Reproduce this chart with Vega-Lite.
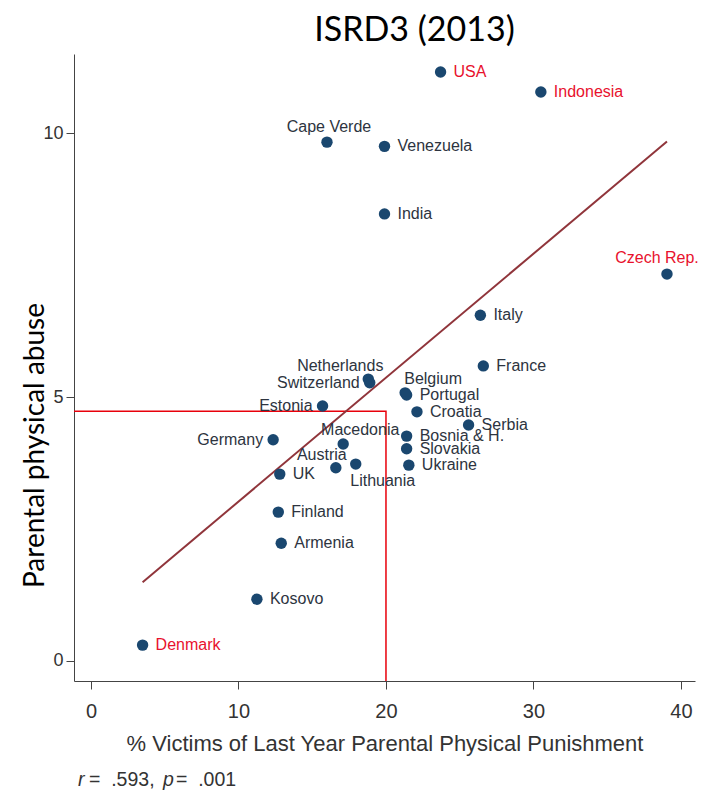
{
  "$schema": "https://vega.github.io/schema/vega-lite/v6.json",
  "width": 621,
  "height": 627,
  "autosize": "none",
  "padding": {"left": 74, "top": 54, "right": 12, "bottom": 112},
  "background": "white",
  "title": {"text": "ISRD3 (2013)", "font": "Lato", "fontSize": 34, "fontWeight": "normal", "color": "#000", "anchor": "middle", "frame": "group", "dx": 30, "dy": 34, "offset": 13, "baseline": "alphabetic"},
  "config": {
    "view": {"stroke": null},
    "axis": {"grid": false, "domainColor": "#444", "tickColor": "#444", "labelFont": "Liberation Sans", "labelColor": "#333", "titleFont": "Liberation Sans", "titleColor": "#333", "titleFontWeight": "normal", "tickSize": 8}
  },
  "data": {"values": [
    {"country": "USA", "x": 23.7, "y": 11.16},
    {"country": "Indonesia", "x": 30.5, "y": 10.78},
    {"country": "Cape Verde", "x": 16.0, "y": 9.83},
    {"country": "Venezuela", "x": 19.9, "y": 9.75},
    {"country": "India", "x": 19.9, "y": 8.47},
    {"country": "Czech Rep.", "x": 39.05, "y": 7.33},
    {"country": "Italy", "x": 26.4, "y": 6.55},
    {"country": "France", "x": 26.6, "y": 5.59},
    {"country": "Netherlands", "x": 18.8, "y": 5.34},
    {"country": "Switzerland", "x": 18.9, "y": 5.27},
    {"country": "Belgium", "x": 21.3, "y": 5.08},
    {"country": "Portugal", "x": 21.4, "y": 5.04},
    {"country": "Estonia", "x": 15.7, "y": 4.83},
    {"country": "Croatia", "x": 22.1, "y": 4.72},
    {"country": "Serbia", "x": 25.6, "y": 4.47},
    {"country": "Germany", "x": 12.35, "y": 4.19},
    {"country": "Macedonia", "x": 17.1, "y": 4.11},
    {"country": "Bosnia & H.", "x": 21.4, "y": 4.26},
    {"country": "Slovakia", "x": 21.4, "y": 4.02},
    {"country": "Ukraine", "x": 21.55, "y": 3.71},
    {"country": "Lithuania", "x": 17.95, "y": 3.73},
    {"country": "Austria", "x": 16.6, "y": 3.66},
    {"country": "UK", "x": 12.8, "y": 3.54},
    {"country": "Finland", "x": 12.7, "y": 2.82},
    {"country": "Armenia", "x": 12.9, "y": 2.23},
    {"country": "Kosovo", "x": 11.25, "y": 1.17},
    {"country": "Denmark", "x": 3.5, "y": 0.30}
  ]},
  "encoding": {
    "x": {"field": "x", "type": "quantitative", "scale": {"domain": [-1.15, 40.95], "nice": false, "zero": false},
      "axis": {"values": [0, 10, 20, 30, 40], "title": "% Victims of Last Year Parental Physical Punishment", "titleFontSize": 22, "titleY": 69, "titleBaseline": "alphabetic", "labelFontSize": 20, "labelPadding": 12}},
    "y": {"field": "y", "type": "quantitative", "scale": {"domain": [-0.38, 11.5], "nice": false, "zero": false},
      "axis": {"values": [0, 5, 10], "title": "Parental physical abuse", "titleFont": "Lato", "titleFontSize": 28, "titleColor": "#000", "titleX": -39, "titleY": 391, "titleAngle": 270, "titleAlign": "center", "titleBaseline": "middle", "labelFontSize": 18, "labelPadding": 3}}
  },
  "layer": [
    {
      "data": {"values": [
        {"x": -1.15, "y": 4.73, "o": 1},
        {"x": 20, "y": 4.73, "o": 2},
        {"x": 20, "y": -0.38, "o": 3}
      ]},
      "mark": {"type": "line", "color": "#e8000b", "strokeWidth": 1.5},
      "encoding": {"order": {"field": "o", "type": "quantitative"}}
    },
    {
      "transform": [{"regression": "y", "on": "x"}],
      "mark": {"type": "line", "color": "#90353b", "strokeWidth": 2}
    },
    {
      "mark": {"type": "circle", "size": 130, "color": "#1a476f", "opacity": 1}
    },
    {
      "transform": [{"filter": "indexof(['Switzerland','Estonia','Germany','Cape Verde','Netherlands','Macedonia','Austria','Belgium','Lithuania','Czech Rep.'], datum.country) < 0"}],
      "mark": {"type": "text", "align": "left", "baseline": "middle", "dx": 13, "font": "Liberation Sans", "fontSize": 16},
      "encoding": {
        "text": {"field": "country"},
        "color": {"condition": {"test": "indexof(['USA','Indonesia','Denmark'], datum.country) >= 0", "value": "#e8112d"}, "value": "#2d3440"}
      }
    },
    {
      "transform": [{"filter": "indexof(['Switzerland','Estonia','Germany'], datum.country) >= 0"}],
      "mark": {"type": "text", "align": "right", "baseline": "middle", "dx": -10, "font": "Liberation Sans", "fontSize": 16, "color": "#2d3440"},
      "encoding": {"text": {"field": "country"}}
    },
    {
      "transform": [{"filter": "datum.country === 'Cape Verde'"}],
      "mark": {"type": "text", "align": "center", "baseline": "middle", "dx": 2, "dy": -15, "font": "Liberation Sans", "fontSize": 16, "color": "#2d3440"},
      "encoding": {"text": {"field": "country"}}
    },
    {
      "transform": [{"filter": "datum.country === 'Netherlands'"}],
      "mark": {"type": "text", "align": "center", "baseline": "middle", "dx": -28, "dy": -13, "font": "Liberation Sans", "fontSize": 16, "color": "#2d3440"},
      "encoding": {"text": {"field": "country"}}
    },
    {
      "transform": [{"filter": "datum.country === 'Macedonia'"}],
      "mark": {"type": "text", "align": "center", "baseline": "middle", "dx": 17, "dy": -14, "font": "Liberation Sans", "fontSize": 16, "color": "#2d3440"},
      "encoding": {"text": {"field": "country"}}
    },
    {
      "transform": [{"filter": "datum.country === 'Austria'"}],
      "mark": {"type": "text", "align": "center", "baseline": "middle", "dx": -14, "dy": -13, "font": "Liberation Sans", "fontSize": 16, "color": "#2d3440"},
      "encoding": {"text": {"field": "country"}}
    },
    {
      "transform": [{"filter": "datum.country === 'Belgium'"}],
      "mark": {"type": "text", "align": "center", "baseline": "middle", "dx": 28, "dy": -14, "font": "Liberation Sans", "fontSize": 16, "color": "#2d3440"},
      "encoding": {"text": {"field": "country"}}
    },
    {
      "transform": [{"filter": "datum.country === 'Lithuania'"}],
      "mark": {"type": "text", "align": "center", "baseline": "middle", "dx": 27, "dy": 17, "font": "Liberation Sans", "fontSize": 16, "color": "#2d3440"},
      "encoding": {"text": {"field": "country"}}
    },
    {
      "transform": [{"filter": "datum.country === 'Czech Rep.'"}],
      "mark": {"type": "text", "align": "center", "baseline": "middle", "dx": -10, "dy": -16, "font": "Liberation Sans", "fontSize": 16, "color": "#e8112d"},
      "encoding": {"text": {"field": "country"}}
    },
    {
      "data": {"values": [
        {"seg": 1, "note": "r"},
        {"seg": 2, "note": "=\u00a0\u00a0.593,"},
        {"seg": 3, "note": "p"},
        {"seg": 4, "note": "=\u00a0\u00a0.001"}
      ]},
      "mark": {"type": "text", "align": "left", "baseline": "alphabetic", "font": "Liberation Sans", "fontSize": 19.5, "color": "#333",
        "fontStyle": {"expr": "datum.seg === 1 || datum.seg === 3 ? 'italic' : 'normal'"},
        "dx": {"expr": "datum.seg === 1 ? 0 : datum.seg === 2 ? 11 : datum.seg === 3 ? 85 : 98"}},
      "encoding": {
        "x": {"value": {"expr": "scale('x', -0.88)"}},
        "y": {"value": {"expr": "scale('y', -2.37)"}},
        "text": {"field": "note"}
      }
    }
  ]
}
